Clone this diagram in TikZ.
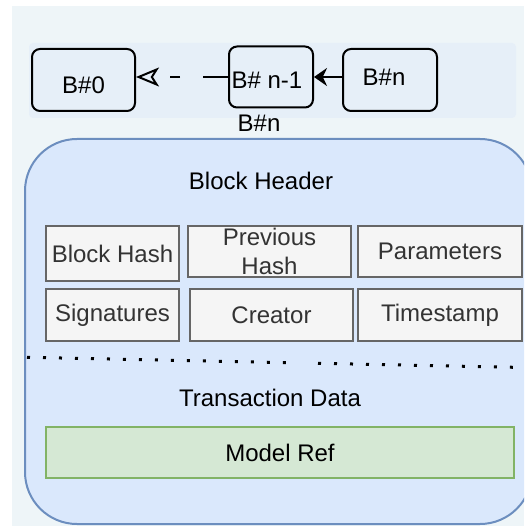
\documentclass[tikz,border=0pt]{standalone}
\usepackage{fontspec}
\setmainfont{Liberation Sans}
\usepackage{tikz}
\usetikzlibrary{arrows.meta}

\definecolor{pagebg}{HTML}{EEF5F8}
\definecolor{bandbg}{HTML}{E6EFF8}
\definecolor{hdrfill}{HTML}{DAE8FC}
\definecolor{hdrline}{HTML}{6C8EBF}
\definecolor{fieldfill}{HTML}{F5F5F5}
\definecolor{fieldline}{HTML}{666666}
\definecolor{fieldtext}{HTML}{333333}
\definecolor{reffill}{HTML}{D5E8D4}
\definecolor{refline}{HTML}{82B366}

\begin{document}
\begin{tikzpicture}[
        x=1pt, y=-1pt,
        txt/.style={font=\fontsize{24}{29}\selectfont},
        blk/.style={draw, line width=2pt, rounded corners=8pt, fill=bandbg, inner sep=0pt},
        field/.style={draw=fieldline, line width=1.6pt, fill=fieldfill, text=fieldtext,
            inner sep=0pt, minimum height=51pt, align=center, txt},
        dotline/.style={line width=3pt, dash pattern=on 3pt off 13pt}
    ]
        \useasboundingbox (0,0) rectangle (524,526);
        \clip (0,0) rectangle (524,526);

        % background and chain band
        \fill[pagebg] (12,6) rectangle (524,526);
        \fill[bandbg, rounded corners=4pt] (29,43) rectangle (516,118);

        % chain of blocks
        \node[blk, minimum width=103pt, minimum height=62pt,
            label={[txt, yshift=-5pt]center:B\#0}] (b0) at (83.5,80) {};
        \node[blk, minimum width=84pt, minimum height=61pt,
            label={[txt, xshift=-4pt, yshift=-3pt]center:B\# n-1}] (bprev) at (271,77) {};
        \node[blk, minimum width=94pt, minimum height=62pt,
            label={[txt, xshift=-6pt, yshift=3pt]center:B\#n}] (bn) at (390,80) {};

        \draw[line width=2.5pt, -{Stealth[length=13pt, width=18pt]}] (bn.west |- bprev.center) -- (bprev.east);
        \draw[line width=2pt, dash pattern=on 25pt off 23pt on 10pt off 100pt,
            -{Stealth[open, length=23pt, width=19pt, inset=6pt, line width=2pt]}] (bprev.west) -- (bprev.west -| b0.east);

        \node[txt] (bnname) at (259,123) {B\#n};

        % block body
        \draw[draw=hdrline, fill=hdrfill, line width=2pt, rounded corners=52pt] (25,139) rectangle (532,524);

        \node[txt] (hdr) at (261,181) {Block Header};

        \node[field, minimum width=133pt, minimum height=55pt] (bhash) at (112.5,253.5) {Block Hash};
        \node[field, minimum width=163pt] (phash) at (269.5,251.5) {Previous\\Hash};
        \node[field, minimum width=164pt] (params) at (440,251.5) {Parameters};
        \node[field, minimum width=133pt, minimum height=52pt] (sigs) at (112.5,315) {Signatures};
        \node[field, minimum width=163pt, minimum height=52pt] (creator) at (271.5,315) {Creator};
        \node[field, minimum width=164pt, minimum height=52pt] (tstamp) at (440,315) {Timestamp};

        % split between header and data
        \coordinate (dotA) at (27,357.3);
        \coordinate (dotB) at (289,362.7);
        \coordinate (dotC) at (318,363.3);
        \coordinate (dotD) at (524,367.5);
        \draw[dotline] (dotA) -- (dotB);
        \draw[dotline] (dotC) -- (dotD);

        \node[txt] (txdata) at (270,398) {Transaction Data};
        \node[draw=refline, fill=reffill, line width=2pt, minimum width=468pt, minimum height=51pt,
            inner sep=0pt, txt] (modelref) at (280,452.5) {Model Ref};
    \end{tikzpicture}
\end{document}
